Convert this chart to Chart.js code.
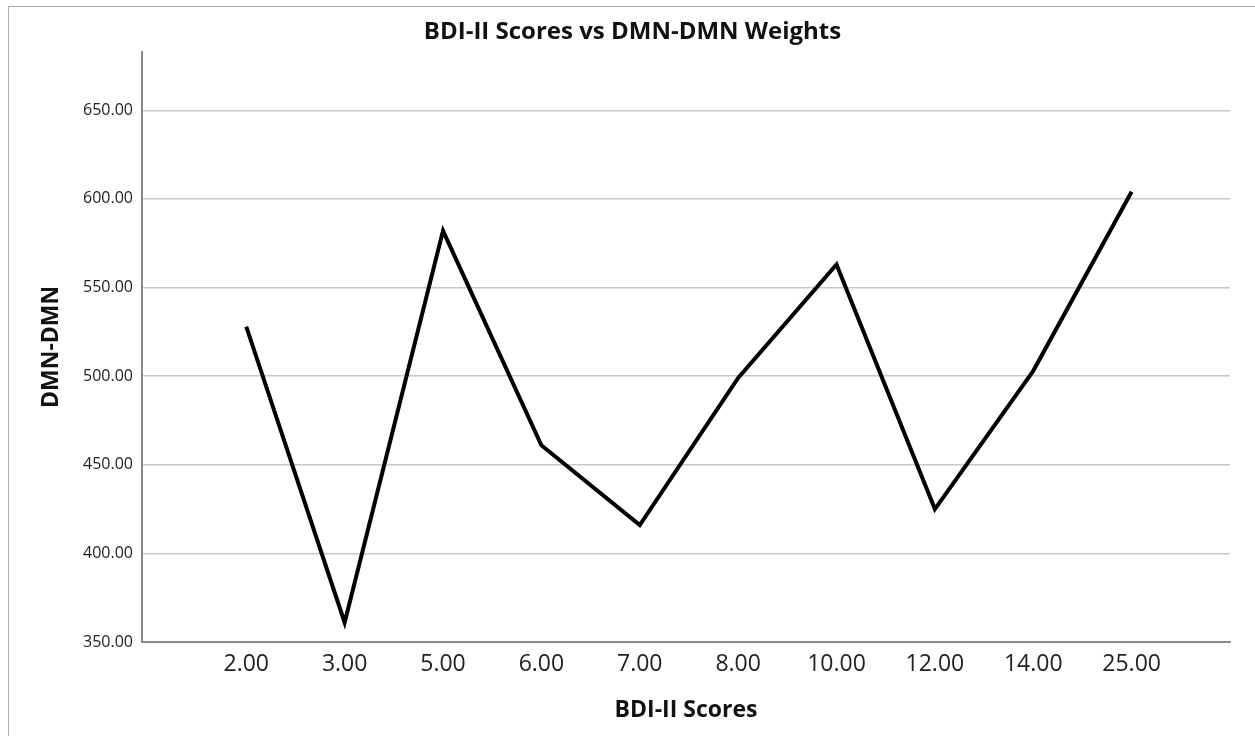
<!DOCTYPE html>
<html>
<head>
<meta charset="utf-8">
<script src="https://cdn.jsdelivr.net/npm/chart.js@4.4.1/dist/chart.umd.min.js"></script>
<style>
    html, body { margin: 0; padding: 0; background: #fff; }
    #frame { position: absolute; left: 8px; top: 6px; width: 1260px; height: 740px; border-top: 1px solid #b0b0b0; border-left: 1px solid #b0b0b0; }
    #wrap { position: absolute; left: 0; top: 0; width: 1255px; height: 736px; }
</style>
</head>
<body>
<div id="frame"></div>
<div id="wrap"><canvas id="bdi-chart" width="1255" height="736"></canvas></div>
<script>
// BDI-II score categories and DMN-DMN weights
const bdi_labels = ['2.00', '3.00', '5.00', '6.00', '7.00', '8.00', '10.00', '12.00', '14.00', '25.00'];
const dmn_values = [528, 361, 582, 461, 416, 499, 563, 425, 503, 604];
const y_tick_values = [350, 400, 450, 500, 550, 600, 650];

const font_family = '"Open Sans", "DejaVu Sans", sans-serif';

const bdi_chart = document.getElementById('bdi-chart');

const bdi_chart_points = bdi_labels.map((label, i) => ({ x: i + 1, y: dmn_values[i] }));

new Chart(bdi_chart, {
    type: 'line',
    data: {
        datasets: [
            {
                data: bdi_chart_points,
                borderColor: '#000',
                borderWidth: 4,
                borderJoinStyle: 'miter',
                pointRadius: 0,
                tension: 0,
                fill: false
            }
        ]
    },
    options: {
        responsive: false,
        animation: false,
        layout: {
            padding: { left: 35, right: 25, top: 0, bottom: 0 }
        },
        plugins: {
            legend: { display: false },
            tooltip: { enabled: false },
            title: {
                display: true,
                text: 'BDI-II Scores vs DMN-DMN Weights',
                color: '#111',
                font: { family: font_family, size: 24, weight: 'bold' },
                padding: { top: 18, bottom: 5 }
            }
        },
        scales: {
            x: {
                type: 'linear',
                min: -0.06,
                max: 11,
                afterFit: (scale) => { scale.height = 94; },
                afterBuildTicks: (scale) => {
                    scale.ticks = bdi_labels.map((label, i) => ({ value: i + 1 }));
                },
                ticks: {
                    autoSkip: false,
                    maxRotation: 0,
                    padding: 9,
                    color: '#222',
                    font: { family: font_family, size: 23 },
                    callback: (value) => bdi_labels[value - 1] || ''
                },
                grid: { display: false, drawTicks: false },
                border: { display: true, color: '#8a8a8a', width: 2 },
                title: {
                    display: true,
                    text: 'BDI-II Scores',
                    color: '#111',
                    font: { family: font_family, size: 23, weight: 'bold' },
                    padding: { top: 0, bottom: 12 }
                }
            },
            y: {
                min: 350,
                max: 683,
                afterFit: (scale) => { scale.width = 107; },
                afterBuildTicks: (scale) => {
                    scale.ticks = y_tick_values.map((v) => ({ value: v }));
                },
                ticks: {
                    padding: 9,
                    color: '#222',
                    font: { family: font_family, size: 16 },
                    callback: (value) => value.toFixed(2)
                },
                grid: { color: '#c8c8c8', lineWidth: 1.5, drawTicks: false },
                border: { display: true, color: '#8a8a8a', width: 2 },
                title: {
                    display: true,
                    text: 'DMN-DMN',
                    color: '#111',
                    font: { family: font_family, size: 23, weight: 'bold' },
                    padding: { top: 3, bottom: 0 }
                }
            }
        }
    }
});
</script>
</body>
</html>
